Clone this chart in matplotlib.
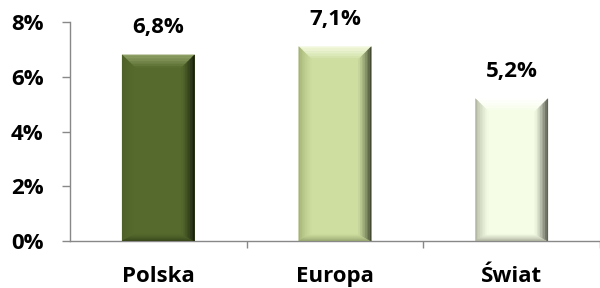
import matplotlib
matplotlib.use('Agg')
import matplotlib.pyplot as plt
from matplotlib.patches import Polygon
from matplotlib.ticker import FuncFormatter
import numpy as np

categories = ['Polska', 'Europa', 'Świat']
values = [6.8, 7.1, 5.2]
labels = ['6,8%', '7,1%', '5,2%']
y_ticks = [0, 2, 4, 6, 8]

base_cols = ['#566a2e', '#cddea0', '#f5fde6']
top_edge = ['#8fa065', '#f2f8dc', '#ffffff']
left_edge = ['#4c5f27', '#9aaa6c', '#a3a893']
bot_edge = ['#344219', '#8e9c68', '#a0a492']
right_edge = ['#0f1408', '#2c3220', '#3a3c33']

plt.rcParams['font.family'] = ['Open Sans', 'DejaVu Sans']
plt.rcParams['font.weight'] = 'bold'

fig = plt.figure(figsize=(6.0, 2.88), dpi=100)
ax = fig.add_axes([70/600, 1-241/288, 530/600, 219/288])

W, H = 530.0, 219.0
xlo, xhi = -0.5, 2.5
ylo, yhi = 0, 8
px = (xhi - xlo) / W
py = (yhi - ylo) / H
bw = 0.41


def mix(c1, c2, t):
    a = np.array(matplotlib.colors.to_rgb(c1))
    b = np.array(matplotlib.colors.to_rgb(c2))
    return tuple(a + (b - a) * t)


def bevel(p0, p1, q0, q1, edge, base, n=8, power=1.0):
    # bands from outer edge (p0,p1) to inner edge (q0,q1)
    p0, p1, q0, q1 = map(np.array, (p0, p1, q0, q1))
    for k in range(n):
        t0 = k / n
        t1 = (k + 1) / n
        pts = [p0 + (q0 - p0) * t0, p1 + (q1 - p1) * t0,
               p1 + (q1 - p1) * t1, p0 + (q0 - p0) * t1]
        c = mix(edge, base, ((t0 + t1) / 2) ** power)
        ax.add_patch(Polygon(pts, facecolor=c, edgecolor=c, linewidth=0.3, zorder=4))


for i, v in enumerate(values):
    x0 = i - bw/2
    x1 = i + bw/2
    bx = 13 * px
    bt = 13 * py
    bb = 7 * py
    ax.add_patch(Polygon([[x0, 0], [x1, 0], [x1, v], [x0, v]], closed=True,
                         facecolor=base_cols[i], edgecolor='none', zorder=3))
    bevel([x0, v], [x1, v], [x0 + bx, v - bt], [x1 - bx, v - bt],
          top_edge[i], base_cols[i], power=1.3)
    bevel([x0, 0], [x0, v], [x0 + bx, bb], [x0 + bx, v - bt],
          left_edge[i], base_cols[i], power=0.6)
    bevel([x0, 0], [x1, 0], [x0 + bx, bb], [x1 - bx, bb],
          bot_edge[i], base_cols[i], power=0.8)
    bevel([x1, 0], [x1, v], [x1 - bx, bb], [x1 - bx, v - bt],
          right_edge[i], base_cols[i], power=0.7)
    ax.text(i, v + 22 * py, labels[i], ha='center', va='baseline',
            fontsize=16, fontweight='bold', color='black')

ax.set_xlim(xlo, xhi)
ax.set_ylim(ylo, yhi)
ax.set_yticks(y_ticks)
ax.yaxis.set_major_formatter(FuncFormatter(lambda y, p: '%d%%' % y))
ax.set_xticks(range(len(categories)))
ax.set_xticklabels(categories)
ax.set_xticks([0.5, 1.5, 2.5], minor=True)

for s in ['top', 'right']:
    ax.spines[s].set_visible(False)
for s in ['left', 'bottom']:
    ax.spines[s].set_color('#888888')
    ax.spines[s].set_linewidth(1.0)

ax.tick_params(axis='y', direction='out', length=6, width=1.0, color='#888888',
               labelsize=16, pad=13)
ax.tick_params(axis='x', which='major', length=0, labelsize=16, pad=18)
ax.tick_params(axis='x', which='minor', direction='out', length=5, width=1.0,
               color='#888888')
for lab in ax.get_xticklabels() + ax.get_yticklabels():
    lab.set_fontweight('bold')

fig.savefig('out.png', dpi=100)
